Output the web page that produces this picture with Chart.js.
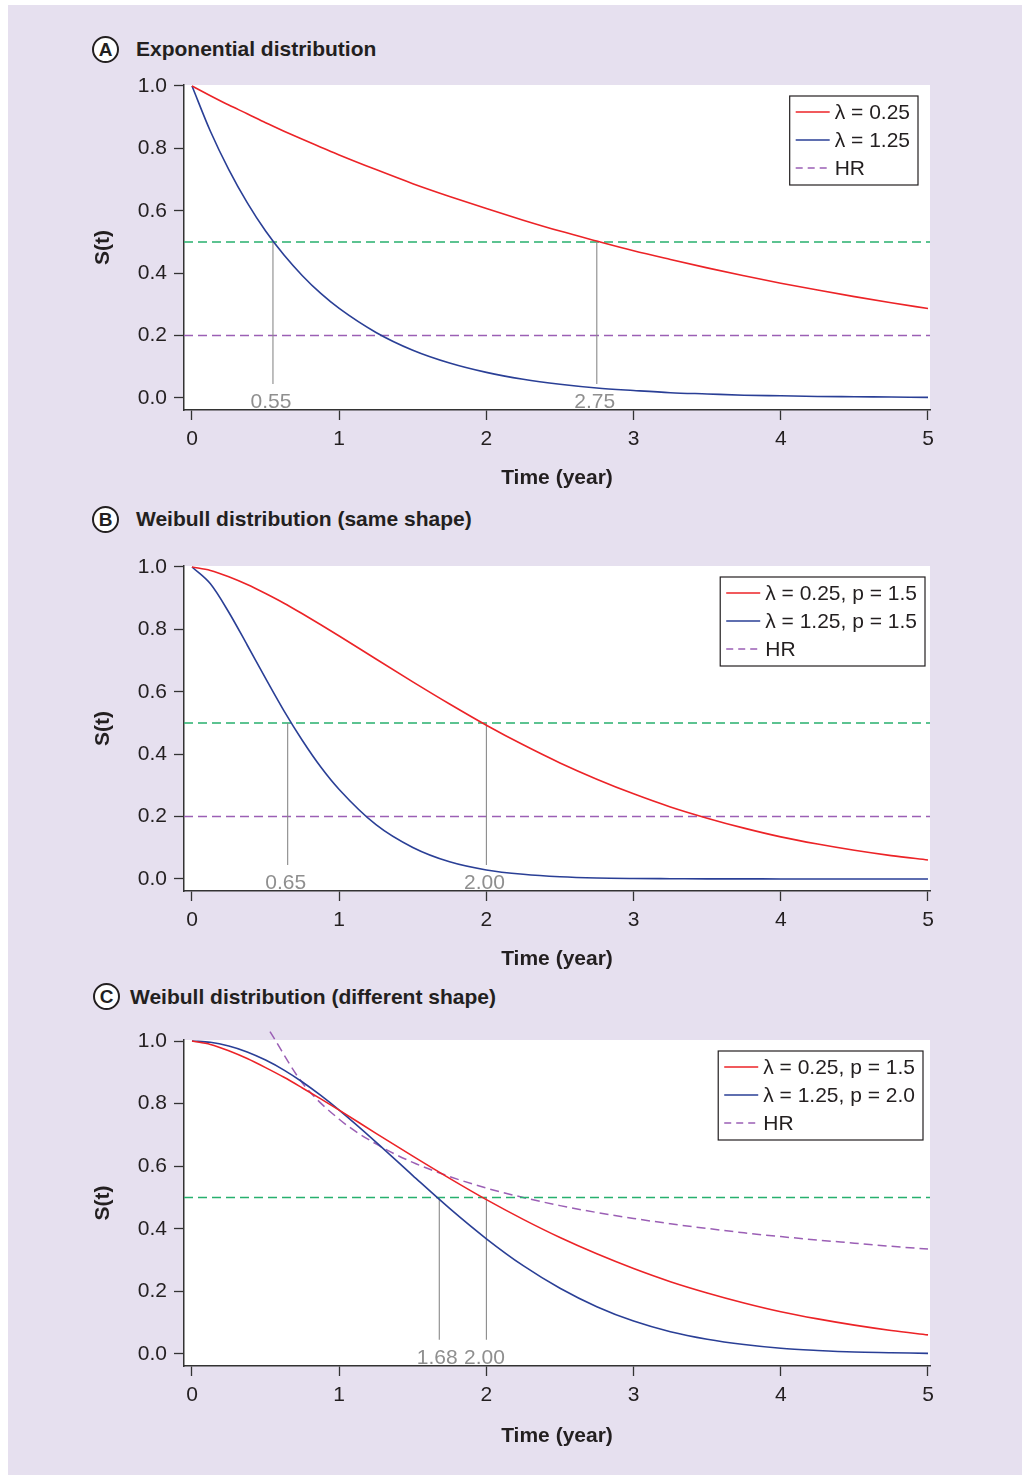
<!DOCTYPE html>
<html>
<head>
<meta charset="utf-8">
<script src="https://cdn.jsdelivr.net/npm/chart.js@4.4.1/dist/chart.umd.min.js"></script>
<style>
  body { margin: 0; width: 1022px; height: 1475px; position: relative; overflow: hidden; background: #fff;
         font-family: "Liberation Sans", Arial, Helvetica, sans-serif; color: #231f20; }
  #bg { position: absolute; left: 8px; top: 5px; right: 0; bottom: 0; background: #e6e0ef; }
  canvas { position: absolute; left: 0; }
  .tag { position: absolute; width: 27px; height: 27px; box-sizing: border-box; border: 2px solid #231f20;
         border-radius: 50%; background: #fff; font-weight: bold; font-size: 19px; line-height: 23px; text-align: center; }
  .ttl { position: absolute; font-weight: bold; font-size: 21px; line-height: 27px; white-space: nowrap; }
</style>
</head>
<body>
<div id="bg"></div>

<div class="tag" style="left:92px;top:36px">A</div>
<div class="ttl" style="left:136px;top:35px">Exponential distribution</div>
<canvas id="chartA" width="1022" height="430" style="top:65px;width:1022px;height:430px"></canvas>

<div class="tag" style="left:92px;top:506px">B</div>
<div class="ttl" style="left:136px;top:505px">Weibull distribution (same shape)</div>
<canvas id="chartB" width="1022" height="430" style="top:546px;width:1022px;height:430px"></canvas>

<div class="tag" style="left:93px;top:983px">C</div>
<div class="ttl" style="left:130px;top:983px">Weibull distribution (different shape)</div>
<canvas id="chartC" width="1022" height="430" style="top:1020px;width:1022px;height:430px"></canvas>

<script>
// time grid (years) the curves were read at, denser in the first year
const times = [0, 0.125, 0.25, 0.375, 0.5, 0.625, 0.75, 0.875, 1, 1.25, 1.5, 1.75, 2, 2.25, 2.5, 2.75, 3, 3.25, 3.5, 3.75, 4, 4.25, 4.5, 4.75, 5];

// A: exponential
const redA  = [1, 0.969, 0.939, 0.911, 0.882, 0.855, 0.829, 0.804, 0.779, 0.732, 0.687, 0.646, 0.607, 0.570, 0.535, 0.503, 0.472, 0.444, 0.417, 0.392, 0.368, 0.346, 0.325, 0.305, 0.287];
const blueA = [1, 0.855, 0.732, 0.626, 0.535, 0.458, 0.392, 0.335, 0.287, 0.210, 0.153, 0.112, 0.082, 0.060, 0.044, 0.032, 0.024, 0.017, 0.013, 0.009, 0.007, 0.005, 0.004, 0.003, 0.002];
const medA = [0.55, 2.75];
const legendA = ['λ = 0.25', 'λ = 1.25', 'HR'];

// B: weibull, same shape
const redB  = [1, 0.989, 0.969, 0.944, 0.915, 0.884, 0.850, 0.815, 0.779, 0.705, 0.632, 0.561, 0.493, 0.430, 0.372, 0.320, 0.273, 0.231, 0.195, 0.163, 0.135, 0.112, 0.092, 0.075, 0.061];
const blueB = [1, 0.946, 0.855, 0.750, 0.643, 0.539, 0.444, 0.359, 0.287, 0.174, 0.101, 0.055, 0.029, 0.015, 0.007, 0.003, 0.0015, 0.001, 0.0005, 0.0003, 0.0002, 0.0001, 0.0001, 0, 0];
const medB = [0.65, 2.00];
const legendB = ['λ = 0.25, p = 1.5', 'λ = 1.25, p = 1.5', 'HR'];

// C: weibull, different shape
const redC  = [1, 0.989, 0.969, 0.944, 0.915, 0.884, 0.850, 0.815, 0.779, 0.705, 0.632, 0.561, 0.493, 0.430, 0.372, 0.320, 0.273, 0.231, 0.195, 0.163, 0.135, 0.112, 0.092, 0.075, 0.061];
const blueC = [1, 0.996, 0.984, 0.965, 0.939, 0.907, 0.869, 0.826, 0.779, 0.677, 0.570, 0.465, 0.368, 0.282, 0.210, 0.151, 0.105, 0.071, 0.047, 0.030, 0.018, 0.011, 0.006, 0.004, 0.002];
const hrTimesC = [0.53, 0.75, 1, 1.25, 1.5, 1.75, 2, 2.25, 2.5, 2.75, 3, 3.25, 3.5, 3.75, 4, 4.25, 4.5, 4.75, 5];
const hrC = [1.03, 0.866, 0.75, 0.671, 0.612, 0.567, 0.530, 0.500, 0.474, 0.452, 0.433, 0.416, 0.401, 0.387, 0.375, 0.364, 0.354, 0.344, 0.335];
const medC = [1.68, 2.00];
const legendC = ['λ = 0.25, p = 1.5', 'λ = 1.25, p = 2.0', 'HR'];

const hrLevel = 0.2;       // constant HR in A and B
const medianLevel = 0.5;
const medianFoot = 0.045;

const xTicks = [0, 1, 2, 3, 4, 5];
const yTicks = [0, 0.2, 0.4, 0.6, 0.8, 1.0];

const RED = '#ec2327', BLUE = '#2a3f96', GREEN = '#27b06e', PURPLE = '#9b5fb5', GRAY = '#8a8a8a', INK = '#231f20';
const X_MIN = -0.0543, X_MAX = 5.0136, Y_MIN = -0.0385, Y_MAX = 1.0032;
const FONT = '"Liberation Sans", Arial, Helvetica, sans-serif';

Chart.defaults.font.family = FONT;

function curve(xs, ys, color, extra) {
  return Object.assign({
    data: xs.map((x, i) => ({ x: x, y: ys[i] })),
    borderColor: color, borderWidth: 1.6, pointRadius: 0,
    cubicInterpolationMode: 'monotone', fill: false
  }, extra || {});
}
function hline(y, color) {
  return { data: [{ x: X_MIN, y: y }, { x: X_MAX, y: y }], borderColor: color, borderWidth: 1.5,
           borderDash: [9, 5], pointRadius: 0, fill: false };
}
function vline(x) {
  return { data: [{ x: x, y: medianLevel }, { x: x, y: medianFoot }], borderColor: GRAY, borderWidth: 1.1,
           pointRadius: 0, fill: false };
}

const decor = {
  id: 'decor',
  beforeDraw(chart) {
    const a = chart.chartArea, ctx = chart.ctx;
    ctx.save();
    ctx.fillStyle = '#fff';
    ctx.fillRect(a.left, a.top, a.right - a.left, a.bottom - a.top);
    ctx.restore();
  },
  afterDatasetsDraw(chart, args, o) {
    const ctx = chart.ctx, a = chart.chartArea;
    const xs = chart.scales.x, ys = chart.scales.y;
    ctx.save();
    ctx.font = '21px ' + FONT;
    // median labels
    ctx.fillStyle = '#8f8f8f';
    ctx.textAlign = 'center';
    ctx.textBaseline = 'alphabetic';
    o.medians.forEach(m => ctx.fillText(m.toFixed(2), xs.getPixelForValue(m) - 2, ys.getPixelForValue(0) + 10));
    // legend box
    const w = Math.max(...o.labels.map(l => ctx.measureText(l).width));
    const bw = 6 + 34 + 5 + w + 8, bh = 89;
    const bx = a.right - o.right - bw, by = a.top + 11;
    ctx.fillStyle = '#fff';
    ctx.fillRect(bx, by, bw, bh);
    ctx.strokeStyle = INK;
    ctx.lineWidth = 1.2;
    ctx.strokeRect(bx, by, bw, bh);
    o.labels.forEach((lab, i) => {
      const y = by + 16 + 28 * i;
      ctx.strokeStyle = o.colors[i];
      ctx.lineWidth = 1.5;
      ctx.setLineDash(o.dashed[i] ? [7, 5] : []);
      ctx.beginPath();
      ctx.moveTo(bx + 6, y);
      ctx.lineTo(bx + 40, y);
      ctx.stroke();
      ctx.setLineDash([]);
      ctx.fillStyle = INK;
      ctx.textAlign = 'left';
      ctx.textBaseline = 'middle';
      ctx.fillText(lab, bx + 45, y + 1);
    });
    ctx.restore();
  }
};

function axisCommon() {
  return {
    grid: { drawOnChartArea: false, drawTicks: true, tickLength: 10, color: '#333', tickColor: '#333', tickWidth: 1.3 },
    border: { display: true, color: '#333', width: 1.5 }
  };
}

function makePanel(id, datasets, medians, labels, legendRight, xAxisHeight, titlePad) {
  const xAxis = Object.assign(axisCommon(), {
    type: 'linear', min: X_MIN, max: X_MAX,
    afterBuildTicks: s => { s.ticks = xTicks.map(v => ({ value: v })); },
    afterFit: s => { s.height = xAxisHeight; },
    ticks: { color: INK, font: { size: 21 }, padding: 7, maxRotation: 0, autoSkip: false, callback: v => String(v) },
    title: { display: true, text: 'Time (year)', color: INK, font: { size: 21, weight: 'bold' }, padding: { top: 0, bottom: titlePad } }
  });
  const yAxis = Object.assign(axisCommon(), {
    type: 'linear', min: Y_MIN, max: Y_MAX,
    afterBuildTicks: s => { s.ticks = yTicks.map(v => ({ value: v })); },
    afterFit: s => { s.width = 184; },
    ticks: { color: INK, font: { size: 21 }, padding: 7, callback: v => v.toFixed(1) },
    title: { display: true, text: 'S(t)', color: INK, font: { size: 21, weight: 'bold' }, padding: { top: 91, bottom: 0 } }
  });
  new Chart(document.getElementById(id), {
    type: 'line',
    data: { datasets: datasets },
    options: {
      responsive: false,
      animation: false,
      layout: { padding: { left: 0, right: 92, top: 20, bottom: 0 } },
      scales: { x: xAxis, y: yAxis },
      plugins: {
        legend: { display: false },
        tooltip: { enabled: false },
        decor: { medians: medians, labels: labels, right: legendRight,
                 colors: [RED, BLUE, PURPLE], dashed: [false, false, true] }
      }
    },
    plugins: [decor]
  });
}

makePanel('chartA', [
  curve(times, redA, RED),
  curve(times, blueA, BLUE),
  vline(medA[0]), vline(medA[1]),
  hline(medianLevel, GREEN),
  hline(hrLevel, PURPLE)
], medA, legendA, 12, 85, 4);

makePanel('chartB', [
  curve(times, redB, RED),
  curve(times, blueB, BLUE),
  vline(medB[0]), vline(medB[1]),
  hline(medianLevel, GREEN),
  hline(hrLevel, PURPLE)
], medB, legendB, 5, 85, 4);

makePanel('chartC', [
  curve(times, redC, RED),
  curve(times, blueC, BLUE),
  vline(medC[0]), vline(medC[1]),
  hline(medianLevel, GREEN),
  curve(hrTimesC, hrC, PURPLE, { borderDash: [9, 5], borderWidth: 1.5, clip: false })
], medC, legendC, 7, 84, 1);
</script>
</body>
</html>
